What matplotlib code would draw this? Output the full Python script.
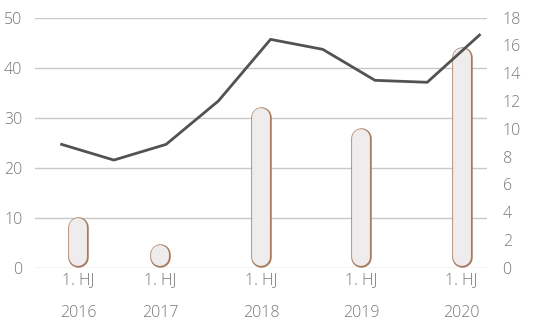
import matplotlib
matplotlib.use("Agg")
import matplotlib.pyplot as plt

# data
line_values = [8.88, 7.75, 8.88, 12.0, 16.44, 15.72, 13.49, 13.35, 16.75]  # right axis
bar_values = [10.2, 4.8, 32.1, 28.0, 44.1]  # left axis
bar_positions = [0.31, 1.89, 3.82, 5.74, 7.66]  # in half-year index units
tick_labels = ["1. HJ\n2016", "1. HJ\n2017", "1. HJ\n2018", "1. HJ\n2019", "1. HJ\n2020"]
left_ticks = [0, 10, 20, 30, 40, 50]
right_ticks = [0, 2, 4, 6, 8, 10, 12, 14, 16, 18]

plt.rcParams['font.family'] = ['Open Sans', 'DejaVu Sans']
text_color = '#767676'

fig = plt.figure(figsize=(5.51, 3.20), dpi=100)
ax = fig.add_axes([0.0635, 0.1634, 0.8209, 0.7813])
ax2 = ax.twinx()

ax.set_xlim(-0.51, 8.15)
ax.set_ylim(0, 50)
ax2.set_ylim(0, 18)

for s in ['top', 'right', 'left', 'bottom']:
    ax.spines[s].set_visible(False)
    ax2.spines[s].set_visible(False)

ax.set_yticks(left_ticks)
ax2.set_yticks(right_ticks)
ax.yaxis.grid(True, color='#c8c8c8', linewidth=1.0)
ax.set_axisbelow(True)
ax.tick_params(axis='y', length=0, pad=9, labelsize=11.5, labelcolor=text_color)
ax2.tick_params(axis='y', length=0, pad=11, labelsize=11.5, labelcolor=text_color)
ax.set_xticks(bar_positions)
ax.set_xticklabels(tick_labels, linespacing=2.45)
ax.tick_params(axis='x', length=0, pad=3, labelsize=11.5, labelcolor=text_color)
for lbl in ax.get_xticklabels() + ax.get_yticklabels() + ax2.get_yticklabels():
    lbl.set_fontweight('light')

# rounded (capsule) bars drawn as round-capped thick lines
fig.canvas.draw()
inv = ax.transData.inverted()
p0 = inv.transform((0, 0))
p1 = inv.transform((1, 1))
dy_per_px = p1[1] - p0[1]
px_to_pt = 72.0 / fig.dpi
bar_w_px = 20.5
edge_px = 1.3
r = (bar_w_px / 2) * dy_per_px
for x, h in zip(bar_positions, bar_values):
    y0, y1 = r, max(h - r, r + 1e-6)
    ax.plot([x, x], [y0, y1], color='#a87a5c', linewidth=bar_w_px * px_to_pt,
            solid_capstyle='round', zorder=3)
    ax.plot([x, x], [y0, y1], color='#eeecec',
            linewidth=(bar_w_px - 2 * edge_px) * px_to_pt,
            solid_capstyle='round', zorder=3.1)

ax2.plot(range(len(line_values)), line_values, color='#525252', linewidth=2.0, zorder=4)
ax2.set_zorder(ax.get_zorder() + 1)
ax2.patch.set_visible(False)

fig.savefig("out.png", dpi=100)
